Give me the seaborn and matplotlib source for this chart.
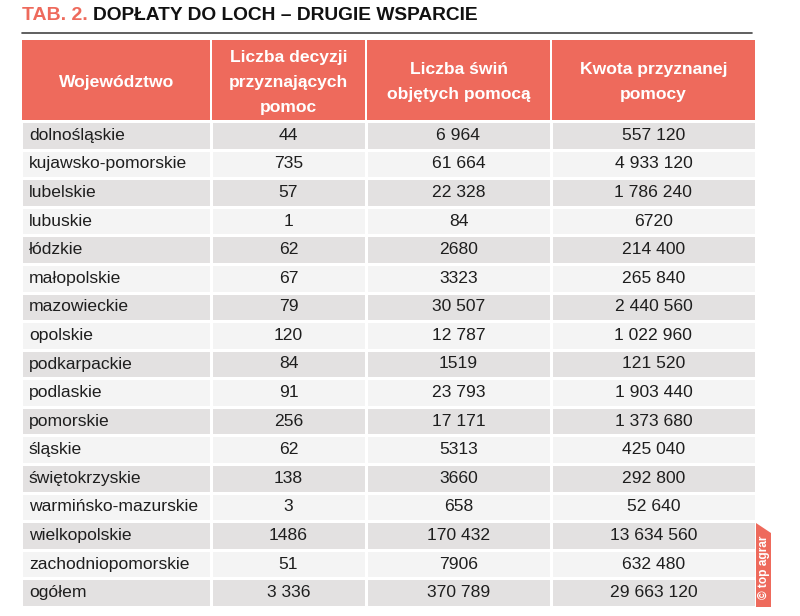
import numpy as np
import matplotlib
matplotlib.use("Agg")
import matplotlib.pyplot as plt
from matplotlib.colors import ListedColormap
from matplotlib.patches import Polygon
import seaborn as sns

# table content
headers = ["Województwo", "Liczba decyzji\nprzyznających\npomoc",
           "Liczba świń\nobjętych pomocą", "Kwota przyznanej\npomocy"]
regions = ["dolnośląskie", "kujawsko-pomorskie", "lubelskie", "lubuskie", "łódzkie",
           "małopolskie", "mazowieckie", "opolskie", "podkarpackie", "podlaskie",
           "pomorskie", "śląskie", "świętokrzyskie", "warmińsko-mazurskie",
           "wielkopolskie", "zachodniopomorskie", "ogółem"]
decisions = ["44", "735", "57", "1", "62", "67", "79", "120", "84", "91", "256", "62",
             "138", "3", "1486", "51", "3 336"]
pigs = ["6 964", "61 664", "22 328", "84", "2680", "3323", "30 507", "12 787", "1519",
        "23 793", "17 171", "5313", "3660", "658", "170 432", "7906", "370 789"]
amount = ["557 120", "4 933 120", "1 786 240", "6720", "214 400", "265 840", "2 440 560",
          "1 022 960", "121 520", "1 903 440", "1 373 680", "425 040", "292 800",
          "52 640", "13 634 560", "632 480", "29 663 120"]

RED = "#ee6a5c"
DARK = "#e3e1e1"
LIGHT = "#f4f4f4"
TXT = "#1e1e1e"

sns.set_theme(style="white")
plt.rcParams["font.family"] = ["Liberation Sans", "DejaVu Sans"]

W, H = 800, 616
fig = plt.figure(figsize=(W / 100, H / 100), dpi=100)
fig.patch.set_facecolor("white")


def box(x0, y0, x1, y1):
    return [x0 / W, 1 - y1 / H, (x1 - x0) / W, (y1 - y0) / H]


col_edges = [22, 211, 366, 551, 755]
head_top, head_bot, body_bot = 40, 121, 607
columns = [regions, decisions, pigs, amount]
stripes = np.array([[i % 2] for i in range(len(regions))])

for i, (label, values) in enumerate(zip(headers, columns)):
    x0 = col_edges[i] + (0.7 if i > 0 else 0)
    x1 = col_edges[i + 1] - (0.7 if i < 3 else 0)

    axh = fig.add_axes(box(x0, head_top, x1, head_bot - 1))
    axh.set_facecolor(RED)
    axh.set_xticks([])
    axh.set_yticks([])
    for s in axh.spines.values():
        s.set_visible(False)
    axh.text(0.5, 0.47, label, ha="center", va="center", color="white",
             fontsize=12.6, fontweight="bold", linespacing=1.85,
             transform=axh.transAxes)

    # body cells: stripes drawn as a one-column heatmap per table column
    bx0 = col_edges[i] + (0.2 if i > 0 else -0.6)
    bx1 = col_edges[i + 1] - (0.2 if i < 3 else -0.6)
    axb = fig.add_axes(box(bx0, head_bot, bx1, body_bot))
    sns.heatmap(stripes, ax=axb, cmap=ListedColormap([DARK, LIGHT]), cbar=False,
                annot=np.array(values).reshape(-1, 1), fmt="",
                annot_kws={"fontsize": 12.6, "color": TXT},
                linewidths=0.8, linecolor="white",
                xticklabels=False, yticklabels=False)
    if i == 0:
        for t in axb.texts:
            t.set_ha("left")
            t.set_x(0.04)

# title and rule
fig.text(22 / W, 1 - 16 / H, "TAB. 2.", color=RED, fontsize=14, fontweight="bold",
         va="center", ha="left")
fig.text(93 / W, 1 - 16 / H, "DOPŁATY DO LOCH – DRUGIE WSPARCIE", color="#111111",
         fontsize=13.8, fontweight="bold", va="center", ha="left")
fig.add_artist(plt.Line2D([22 / W, 752 / W], [1 - 33 / H, 1 - 33 / H],
                          color="#444444", linewidth=1.2))

# watermark tab
tab = Polygon([(756 / W, 1 - 607 / H), (771 / W, 1 - 607 / H), (771 / W, 1 - 533 / H),
               (756 / W, 1 - 523 / H)], closed=True, transform=fig.transFigure,
              facecolor=RED, edgecolor="none")
fig.add_artist(tab)
fig.text(763.5 / W, 1 - 567 / H, "© top agrar", rotation=90, color="white",
         fontsize=8.6, fontweight="bold", ha="center", va="center")

fig.savefig("out.png", dpi=100, facecolor="white")
